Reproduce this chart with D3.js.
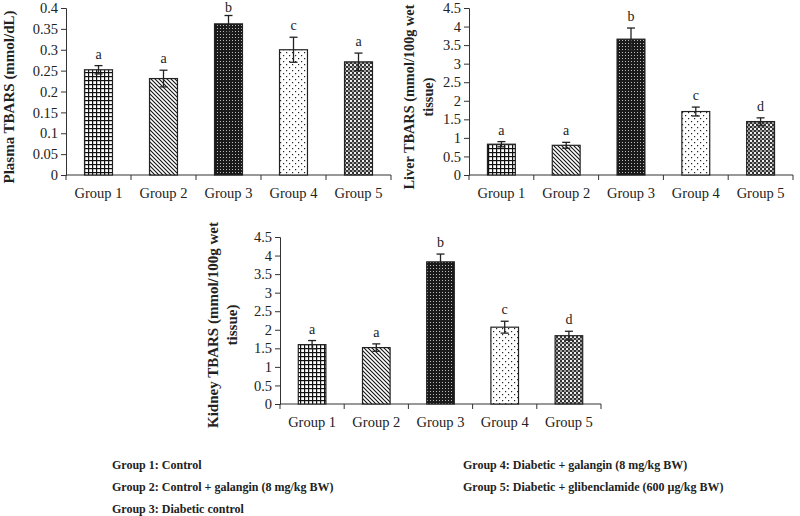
<!DOCTYPE html>
<html><head><meta charset="utf-8">
<script src="https://cdn.jsdelivr.net/npm/d3@7"></script>
<style>body{margin:0;background:#fff}svg{display:block}</style>
</head><body>
<svg id="c" width="800" height="516"></svg>
<script>
const groups = ["Group 1","Group 2","Group 3","Group 4","Group 5"];
const plasmaValues = [0.252, 0.231, 0.362, 0.300, 0.271];
const plasmaErrors = [0.010, 0.020, 0.020, 0.030, 0.021];
const plasmaLetters = ["a","a","b","c","a"];
const liverValues = [0.83, 0.80, 3.66, 1.71, 1.44];
const liverErrors = [0.07, 0.08, 0.30, 0.12, 0.10];
const liverLetters = ["a","a","b","c","d"];
const kidneyValues = [1.60, 1.52, 3.83, 2.07, 1.84];
const kidneyErrors = [0.11, 0.10, 0.21, 0.16, 0.12];
const kidneyLetters = ["a","a","b","c","d"];
const legendLeft = ["Group 1: Control","Group 2: Control + galangin (8 mg/kg BW)","Group 3: Diabetic control"];
const legendRight = ["Group 4: Diabetic + galangin (8 mg/kg BW)","Group 5: Diabetic + glibenclamide  (600 µg/kg BW)"];

const svg = d3.select("#c");
const defs = svg.append("defs");
function pat(id, w, h, draw){
  const p = defs.append("pattern").attr("id",id).attr("patternUnits","userSpaceOnUse").attr("width",w).attr("height",h);
  draw(p);
}
pat("p1",4,4,p=>{p.append("rect").attr("width",4).attr("height",4).attr("fill","#fff");
  p.append("rect").attr("x",0).attr("y",0).attr("width",4).attr("height",1.2).attr("fill","#111");
  p.append("rect").attr("x",0).attr("y",0).attr("width",1.2).attr("height",4).attr("fill","#111");});
pat("p2",4,4,p=>{p.append("rect").attr("width",4).attr("height",4).attr("fill","#fff");
  p.append("path").attr("d","M-1,-1 L5,5 M-1,3 L1,5 M3,-1 L5,1").attr("stroke","#111").attr("stroke-width",1.1);});
pat("p3",3,3,p=>{p.append("rect").attr("width",3).attr("height",3).attr("fill","#1a1a1a");
  p.append("rect").attr("x",1).attr("y",1).attr("width",1).attr("height",1).attr("fill","#bbb");});
pat("p4",6,6,p=>{p.append("rect").attr("width",6).attr("height",6).attr("fill","#fff");
  p.append("rect").attr("x",1).attr("y",1).attr("width",1.2).attr("height",1.2).attr("fill","#222");
  p.append("rect").attr("x",4).attr("y",4).attr("width",1.2).attr("height",1.2).attr("fill","#222");});
pat("p5",4,4,p=>{p.append("rect").attr("width",4).attr("height",4).attr("fill","#9a9a9a");
  p.append("rect").attr("x",0).attr("y",0).attr("width",2).attr("height",2).attr("fill","#333");
  p.append("rect").attr("x",2).attr("y",2).attr("width",2).attr("height",2).attr("fill","#333");
  p.append("rect").attr("x",2).attr("y",0).attr("width",2).attr("height",2).attr("fill","#eee");});
const fills = ["url(#p1)","url(#p2)","url(#p3)","url(#p4)","url(#p5)"];

const serif = "'Liberation Serif','Times New Roman',serif";
const fmt = d => String(+d.toFixed(2));

function chart(o){
  const g = svg.append("g");
  const x = d3.scaleBand().domain(groups).range([o.x0,o.x1]).padding(0);
  const y = d3.scaleLinear().domain([0,o.max]).range([o.y0,o.yTop]);
  const ticks = d3.range(0, o.max + o.step/2, o.step);
  const yAxis = d3.axisLeft(y).tickValues(ticks).tickFormat(fmt).tickSizeOuter(0).tickSize(5).tickPadding(3);
  const ya = g.append("g").attr("transform",`translate(${o.x0},0)`).call(yAxis);
  ya.selectAll("path,line").attr("stroke","#333");
  ya.selectAll("text").attr("font-family",serif).attr("font-size",14.5).attr("fill","#222");
  g.append("line").attr("x1",o.x0).attr("x2",o.x1).attr("y1",o.y0).attr("y2",o.y0).attr("stroke","#333");
  g.selectAll(".bt").data(d3.range(groups.length+1)).enter().append("line")
    .attr("x1",i=>o.x0+i*x.step()).attr("x2",i=>o.x0+i*x.step()).attr("y1",o.y0).attr("y2",o.y0+5).attr("stroke","#333");
  g.selectAll(".xl").data(groups).enter().append("text")
    .attr("x",d=>x(d)+x.bandwidth()/2).attr("y",o.y0+23).attr("text-anchor","middle")
    .attr("font-family",serif).attr("font-size",14.5).attr("fill","#222").text(d=>d);
  const bw = x.bandwidth()*0.43;
  const cx = d => x(d)+x.bandwidth()/2;
  g.selectAll(".bar").data(groups).enter().append("rect")
    .attr("x",d=>cx(d)-bw/2).attr("width",bw)
    .attr("y",(d,i)=>y(o.values[i])).attr("height",(d,i)=>o.y0-y(o.values[i]))
    .attr("fill",(d,i)=>fills[i]).attr("stroke","#222").attr("stroke-width",1.2);
  const eb = g.selectAll(".eb").data(groups).enter().append("g");
  eb.append("line").attr("x1",cx).attr("x2",cx).attr("y1",(d,i)=>y(o.values[i]-o.errors[i])).attr("y2",(d,i)=>y(o.values[i]+o.errors[i])).attr("stroke","#222").attr("stroke-width",1.3);
  eb.append("line").attr("x1",d=>cx(d)-4).attr("x2",d=>cx(d)+4).attr("y1",(d,i)=>y(o.values[i]+o.errors[i])).attr("y2",(d,i)=>y(o.values[i]+o.errors[i])).attr("stroke","#222").attr("stroke-width",1.3);
  eb.append("line").attr("x1",d=>cx(d)-4).attr("x2",d=>cx(d)+4).attr("y1",(d,i)=>y(o.values[i]-o.errors[i])).attr("y2",(d,i)=>y(o.values[i]-o.errors[i])).attr("stroke","#222").attr("stroke-width",1.3);
  g.selectAll(".lt").data(groups).enter().append("text")
    .attr("x",cx).attr("y",(d,i)=>Math.max(y(o.values[i]+o.errors[i])-7, 12)).attr("text-anchor","middle")
    .attr("font-family",serif).attr("font-size",14).attr("fill","#222").text((d,i)=>o.letters[i]);
  const t = g.append("text").attr("transform",`translate(${o.tx},${o.ty}) rotate(-90)`)
    .attr("text-anchor","middle").attr("font-family",serif).attr("font-weight","bold").attr("font-size",o.fs).attr("fill","#222");
  o.title.forEach((line,k)=>t.append("tspan").attr("x",0).attr("dy",k===0?0:19).text(line));
}

chart({x0:66,x1:391,y0:175,yTop:8,max:0.4,step:0.05,values:plasmaValues,errors:plasmaErrors,letters:plasmaLetters,
  title:["Plasma TBARS (mmol/dL)"],tx:14,ty:97,fs:15});
chart({x0:469,x1:793,y0:175,yTop:8,max:4.5,step:0.5,values:liverValues,errors:liverErrors,letters:liverLetters,
  title:["Liver TBARS (mmol/100g wet","tissue)"],tx:414,ty:97,fs:14.3});
chart({x0:280,x1:601,y0:404,yTop:237,max:4.5,step:0.5,values:kidneyValues,errors:kidneyErrors,letters:kidneyLetters,
  title:["Kidney TBARS (mmol/100g wet","tissue)"],tx:218,ty:325,fs:15});

const lg = svg.append("g").attr("font-family",serif).attr("font-weight","bold").attr("font-size",12).attr("fill","#222");
lg.selectAll(".l").data(legendLeft).enter().append("text").attr("x",112).attr("y",(d,i)=>469+i*22).text(d=>d);
lg.selectAll(".r").data(legendRight).enter().append("text").attr("x",463).attr("y",(d,i)=>469+i*22).text(d=>d);
</script>
</body></html>
